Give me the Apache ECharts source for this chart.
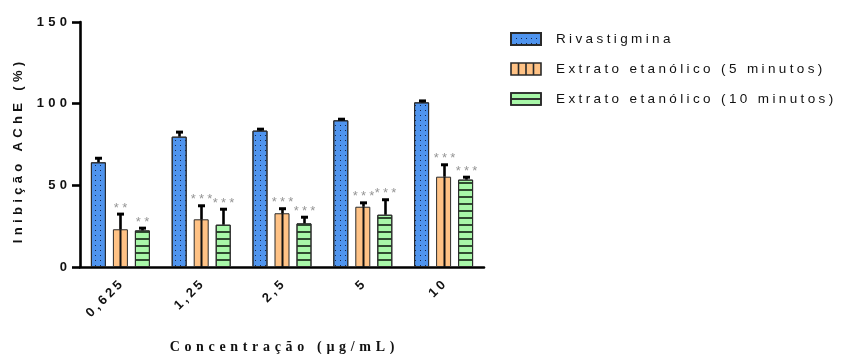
<!DOCTYPE html>
<html>
<head>
<meta charset="utf-8">
<script src="https://cdn.jsdelivr.net/npm/echarts@6/dist/echarts.min.js"></script>
<style>
  html, body { margin: 0; padding: 0; background: #fff; }
  #chart { width: 845px; height: 354px; }
</style>
</head>
<body>
<div id="chart"></div>
<script>
// Concentrations tested (µg/mL)
const categories = ['0,625', '1,25', '2,5', '5', '10'];

// Mean AChE inhibition (%) and standard deviation per treatment
const rivastigmina = [64.1, 79.8, 83.5, 89.8, 100.8];
const rivastigminaSD = [3.4, 3.7, 1.8, 1.6, 1.8];

const extrato5 = [23.1, 29.2, 32.9, 36.9, 55.3];
const extrato5SD = [10.2, 9.2, 3.7, 3.3, 8.2];

const extrato10 = [22.4, 25.9, 26.7, 32.0, 53.5];
const extrato10SD = [2.3, 10.4, 4.7, 10.1, 2.4];

// Significance markers over each bar
const sigRivastigmina = ['', '', '', '', ''];
const sig5 = ['**', '***', '***', '***', '***'];
const sig10 = ['**', '***', '***', '***', '***'];

const seriesNames = [
  'Rivastigmina',
  'Extrato etanólico (5 minutos)',
  'Extrato etanólico (10 minutos)'
];

const yTicks = [0, 50, 100, 150];

// Wide letter tracking done with narrow unicode spaces
const SP3 = '\u2004';   // three-per-em space
const SP4 = '\u2005';   // four-per-em space
function tracked(s, sep) { return Array.from(s).join(sep); }

const BAR_W = 15;
const BAR_GAP = 7;
const SANS = '"Liberation Sans", Arial, sans-serif';
const SERIF = '"Liberation Serif", "Times New Roman", serif';

const colors = ['#4f94ee', '#ffc285', '#a8f7a8'];

function errorData(means, sds) {
  return means.map((m, i) => [i, m, sds[i]]);
}

// Error bar (mean + SD), optional center stripe, and significance stars
function makeErrorSeries(name, means, sds, sig, slot, stripe) {
  return {
    type: 'custom',
    name: name + ' SD',
    z: 5,
    silent: true,
    encode: { x: 0, y: 1 },
    data: errorData(means, sds),
    renderItem: function (params, api) {
      const cat = api.value(0);
      const mean = api.value(1);
      const sd = api.value(2);
      const stars = sig[params.dataIndex];
      const base = api.coord([cat, 0]);
      const pTop = api.coord([cat, mean]);
      const pErr = api.coord([cat, mean + sd]);
      const x = Math.round(pTop[0] + slot * (BAR_W + BAR_GAP)) + 0.5;
      const children = [];
      if (stripe) {
        children.push({
          type: 'line',
          shape: { x1: x, y1: base[1], x2: x, y2: pTop[1] },
          style: { stroke: '#111', lineWidth: 2 }
        });
      }
      children.push({
        type: 'line',
        shape: { x1: x, y1: pTop[1], x2: x, y2: pErr[1] + 1 },
        style: { stroke: '#000', lineWidth: 2.6 }
      });
      children.push({
        type: 'line',
        shape: { x1: x - 3.5, y1: pErr[1] + 1.5, x2: x + 3.5, y2: pErr[1] + 1.5 },
        style: { stroke: '#000', lineWidth: 3 }
      });
      if (stars) {
        children.push({
          type: 'text',
          style: {
            text: tracked(stars, SP4),
            x: x,
            y: pErr[1] - 4.5,
            align: 'center',
            verticalAlign: 'middle',
            fill: '#959595',
            fontSize: 13,
            fontFamily: SANS
          }
        });
      }
      return { type: 'group', children: children };
    }
  };
}

const chart = echarts.init(document.getElementById('chart'), null, { renderer: 'canvas' });

const barCommon = {
  type: 'bar',
  barWidth: BAR_W,
  barGap: (BAR_GAP / BAR_W * 100).toFixed(1) + '%',
  z: 2
};

chart.setOption({
  animation: false,
  backgroundColor: '#ffffff',
  grid: { left: 80, right: 361, top: 22, bottom: 87, containLabel: false, outerBoundsMode: 'none' },
  legend: {
    orient: 'vertical',
    left: 510,
    top: 32,
    padding: 0,
    itemWidth: 30,
    itemHeight: 12,
    itemGap: 16,
    textStyle: {
      fontFamily: SANS,
      fontSize: 13.5,
      lineHeight: 12,
      color: '#111',
      padding: [0, 0, 0, 10]
    },
    formatter: function (n) { return tracked(n, SP4); },
    data: [
      { name: seriesNames[0], icon: 'rect' },
      {
        name: seriesNames[1],
        icon: 'path://M0,0H7.5V12H0Z M7.5,0H15V12H7.5Z M15,0H22.5V12H15Z M22.5,0H30V12H22.5Z',
        itemStyle: { borderWidth: 1.6 }
      },
      {
        name: seriesNames[2],
        icon: 'path://M0,0H30V6H0Z M0,6H30V12H0Z',
        itemStyle: { borderWidth: 1.6, decal: { color: 'rgba(0,0,0,0)', dashArrayX: [1, 0], dashArrayY: [1, 0] } }
      }
    ]
  },
  xAxis: {
    type: 'category',
    data: categories,
    name: tracked('Concentração (µg/mL)', SP3),
    nameLocation: 'middle',
    nameGap: 73,
    nameTextStyle: { fontFamily: SERIF, fontWeight: 'bold', fontSize: 14, color: '#111' },
    axisLine: { lineStyle: { color: '#000', width: 2.6 } },
    axisTick: { alignWithLabel: true, length: 6, lineStyle: { color: '#000', width: 2.6 } },
    axisLabel: {
      rotate: 45,
      margin: 16,
      fontFamily: SANS,
      fontWeight: 'bold',
      fontSize: 13,
      color: '#111',
      formatter: function (v) { return tracked(v, SP4); }
    }
  },
  yAxis: {
    type: 'value',
    min: yTicks[0],
    max: yTicks[yTicks.length - 1],
    interval: yTicks[1] - yTicks[0],
    name: tracked('Inibição AChE (%)', SP3),
    nameLocation: 'middle',
    nameGap: 55,
    nameTextStyle: {
      fontFamily: SANS, fontWeight: 'bold', fontSize: 13, color: '#111',
      padding: [0, 16, 0, 0]
    },
    splitLine: { show: false },
    axisLine: { show: true, lineStyle: { color: '#000', width: 2.6 } },
    axisTick: { show: true, length: 8, lineStyle: { color: '#000', width: 2.6 } },
    axisLabel: {
      margin: 13,
      fontFamily: SANS,
      fontWeight: 'bold',
      fontSize: 13,
      color: '#111',
      formatter: function (v) { return tracked(String(v), SP3); }
    }
  },
  series: [
    Object.assign({}, barCommon, {
      name: seriesNames[0],
      data: rivastigmina,
      itemStyle: {
        color: colors[0],
        borderColor: '#2a2a2a',
        borderWidth: 1,
        decal: { symbol: 'rect', symbolSize: 1, color: '#14264a', dashArrayX: [1, 4], dashArrayY: [1, 4] }
      }
    }),
    Object.assign({}, barCommon, {
      name: seriesNames[1],
      data: extrato5,
      itemStyle: { color: colors[1], borderColor: '#2a2a2a', borderWidth: 1 }
    }),
    Object.assign({}, barCommon, {
      name: seriesNames[2],
      data: extrato10,
      itemStyle: {
        color: colors[2],
        borderColor: '#2a2a2a',
        borderWidth: 1,
        decal: { symbol: 'rect', symbolSize: 1, color: '#2f4a30', dashArrayX: [10, 0], dashArrayY: [2, 5] }
      }
    }),
    makeErrorSeries(seriesNames[0], rivastigmina, rivastigminaSD, sigRivastigmina, -1, false),
    makeErrorSeries(seriesNames[1], extrato5, extrato5SD, sig5, 0, true),
    makeErrorSeries(seriesNames[2], extrato10, extrato10SD, sig10, 1, false)
  ]
});
</script>
</body>
</html>
